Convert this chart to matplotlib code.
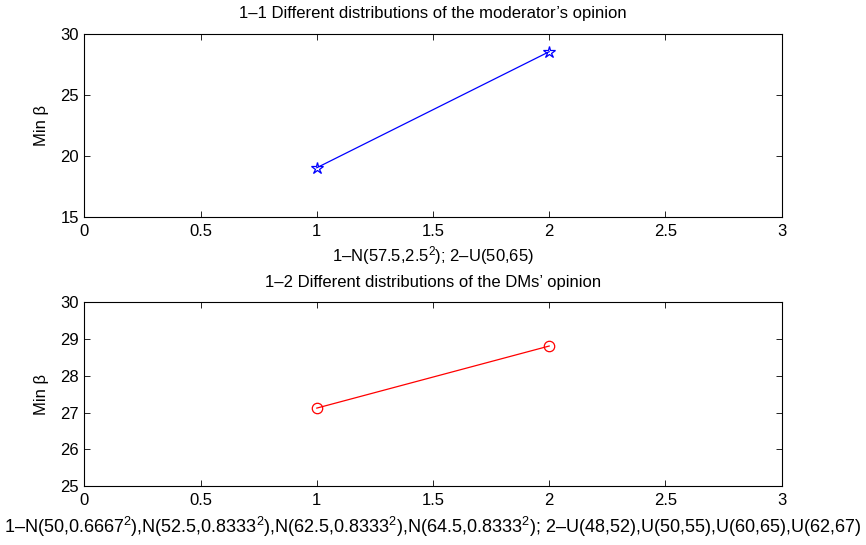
import matplotlib
matplotlib.use('Agg')
import matplotlib.pyplot as plt
import numpy as np

plt.rcParams['font.family'] = ['Liberation Sans', 'DejaVu Sans']
plt.rcParams['mathtext.fontset'] = 'custom'
plt.rcParams['mathtext.rm'] = 'Liberation Sans'
plt.rcParams['mathtext.it'] = 'Liberation Sans:italic'
plt.rcParams['font.size'] = 12

# data
cases = [1, 2]
beta_moderator = [19.04, 28.55]
beta_dms = [27.12, 28.81]

xticks = [0, 0.5, 1, 1.5, 2, 2.5, 3]
xtick_labels = ['0', '0.5', '1', '1.5', '2', '2.5', '3']

title_top = '1\u20131 Different distributions of the moderator\u2019s opinion'
xlabel_top = '1\u2013N(57.5,2.5$^{2}$); 2\u2013U(50,65)'
title_bot = '1\u20132 Different distributions of the DMs\u2019 opinion'
xlabel_bot = ('1\u2013N(50,0.6667$^{2}$),N(52.5,0.8333$^{2}$),N(62.5,0.8333$^{2}$),'
              'N(64.5,0.8333$^{2}$); 2\u2013U(48,52),U(50,55),U(60,65),U(62,67)')

fig = plt.figure(figsize=(8.66, 5.45), dpi=100)
ax1 = fig.add_axes([0.0975, 0.6018, 0.805, 0.3358])
ax2 = fig.add_axes([0.0975, 0.1083, 0.805, 0.337])

ax1.plot(cases, beta_moderator, color='blue', lw=0.9, marker='*',
         markersize=9, markerfacecolor='none', markeredgecolor='blue', markeredgewidth=0.9)
ax2.plot(cases, beta_dms, color='red', lw=0.9, marker='o',
         markersize=7.5, markerfacecolor='none', markeredgecolor='red', markeredgewidth=0.9)

for ax in (ax1, ax2):
    ax.set_xlim(0, 3)
    ax.set_xticks(xticks)
    ax.set_xticklabels(xtick_labels)
    ax.tick_params(direction='in', length=4, width=0.6, top=True, right=True)
    ax.tick_params(axis='x', pad=5)
    ax.tick_params(axis='y', pad=4)
    for s in ax.spines.values():
        s.set_linewidth(0.8)
    ax.set_ylabel('Min \u03b2', labelpad=8)

ax1.set_ylim(15, 30)
ax1.set_yticks([15, 20, 25, 30])
ax2.set_ylim(25, 30)
ax2.set_yticks([25, 26, 27, 28, 29, 30])

ax1.set_title(title_top, fontsize=12, pad=11.5)
ax1.set_xlabel(xlabel_top, labelpad=4)
ax2.set_title(title_bot, fontsize=12, pad=11)
ax2.set_xlabel(xlabel_bot, fontsize=13, labelpad=5)

fig.savefig('out.png', dpi=100)
